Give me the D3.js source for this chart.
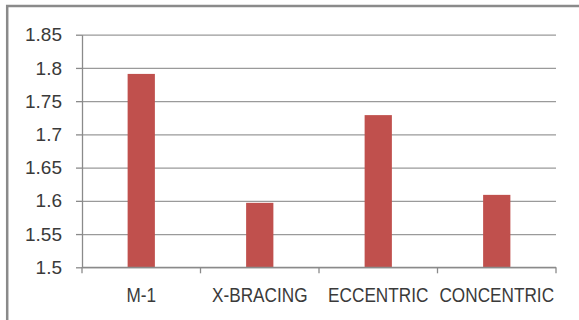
<!DOCTYPE html>
<html>
<head>
<meta charset="utf-8">
<script src="https://cdn.jsdelivr.net/npm/d3@7"></script>
<style>
  html, body { margin: 0; padding: 0; background: #fff; }
  svg { display: block; }
  text { font-family: "Liberation Sans", Arial, sans-serif; fill: #3a3a3a; }
</style>
</head>
<body>
<svg id="chart" width="579" height="320"></svg>
<script>
const categories = ["M-1", "X-BRACING", "ECCENTRIC", "CONCENTRIC"];
const values = [1.791, 1.597, 1.729, 1.609];
const yTicks = [1.5, 1.55, 1.6, 1.65, 1.7, 1.75, 1.8, 1.85];

const W = 579, H = 320;
const plot = { left: 82, right: 556, top: 34.7, bottom: 267.3 };

const svg = d3.select("#chart");

// outer frame (top and left visible edges)
svg.append("rect")
  .attr("x", 7.2).attr("y", 6)
  .attr("width", W + 10).attr("height", H + 10)
  .attr("fill", "#fff")
  .attr("stroke", "#8a8a8a")
  .attr("stroke-width", 2.5);

const x = d3.scaleBand()
  .domain(categories)
  .range([plot.left, plot.right])
  .paddingInner(0.77)
  .paddingOuter(0.385);

const y = d3.scaleLinear()
  .domain([1.5, 1.85])
  .range([plot.bottom, plot.top]);

// gridlines
const grid = svg.append("g")
  .attr("transform", `translate(${plot.left},0)`)
  .call(d3.axisLeft(y).tickValues(yTicks).tickSize(-(plot.right - plot.left)).tickSizeOuter(0).tickFormat(""));
grid.select(".domain").remove();
grid.selectAll(".tick line").attr("stroke", "#9a9a9a").attr("stroke-width", 1.3);

// y axis
const yAxis = svg.append("g")
  .attr("transform", `translate(${plot.left},0)`)
  .call(d3.axisLeft(y).tickValues(yTicks).tickSize(6).tickSizeOuter(0).tickPadding(14).tickFormat(d => String(d)));
yAxis.select(".domain").attr("stroke", "#8a8a8a").attr("stroke-width", 1.3);
yAxis.selectAll(".tick line").attr("stroke", "#8a8a8a").attr("stroke-width", 1.3);
yAxis.selectAll(".tick text")
  .style("font-size", "19px")
  .style("font-family", '"Liberation Sans", Arial, sans-serif')
  .attr("fill", "#3a3a3a");

// bars
svg.append("g").selectAll("rect")
  .data(values)
  .join("rect")
  .attr("x", (d, i) => x(categories[i]))
  .attr("width", x.bandwidth())
  .attr("y", d => y(d))
  .attr("height", d => y(1.5) - y(d))
  .attr("fill", "#c0504d");

// x axis line and boundary ticks
const step = x.step();
const boundaries = d3.range(categories.length + 1).map(i => plot.left + i * step);
const xAxis = svg.append("g");
xAxis.append("line")
  .attr("x1", plot.left).attr("x2", plot.right)
  .attr("y1", plot.bottom).attr("y2", plot.bottom)
  .attr("stroke", "#8a8a8a").attr("stroke-width", 1.3);
xAxis.selectAll("line.tk")
  .data(boundaries)
  .join("line")
  .attr("class", "tk")
  .attr("x1", d => d).attr("x2", d => d)
  .attr("y1", plot.bottom).attr("y2", plot.bottom + 6)
  .attr("stroke", "#8a8a8a").attr("stroke-width", 1.3);

// x labels (horizontally condensed to mimic Calibri proportions)
svg.append("g").selectAll("text")
  .data(categories)
  .join("text")
  .attr("transform", d => `translate(${x(d) + x.bandwidth() / 2},302) scale(0.86,1)`)
  .attr("text-anchor", "middle")
  .style("font-size", "20px")
  .text(d => d);
</script>
</body>
</html>
